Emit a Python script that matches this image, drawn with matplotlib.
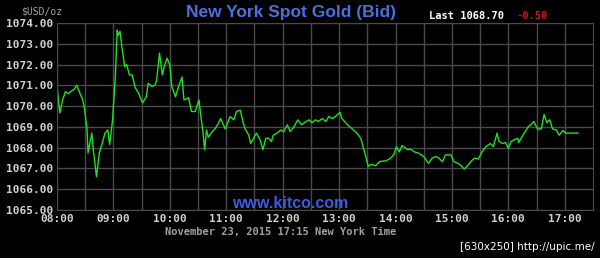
import matplotlib
matplotlib.use('Agg')
import matplotlib.pyplot as plt

# minutes after 08:00 (New York time) and bid price
minutes = [0, 3, 6, 9, 12, 16, 18, 21, 25, 27, 29, 32, 33, 37, 39, 42, 45, 48, 51, 54,
           56, 59, 62, 64, 65, 67, 69, 72, 74, 77, 80, 83, 87, 91, 95, 97, 101, 104, 106, 109,
           112, 114, 117, 120, 122, 126, 129, 133, 135, 140, 143, 147, 151, 153, 155, 157, 159, 161, 165, 168,
           172, 174, 179, 184, 188, 191, 195, 198, 200, 204, 206, 209, 212, 216, 219, 222, 225, 228, 230, 234,
           238, 241, 245, 248, 252, 256, 260, 263, 268, 271, 275, 278, 282, 286, 289, 293, 296, 301, 303, 309,
           314, 319, 323, 326, 328, 331, 334, 339, 343, 350, 355, 358, 361, 364, 367, 373, 376, 380, 385, 390,
           395, 399, 403, 406, 410, 413, 419, 422, 426, 429, 433, 436, 440, 444, 448, 452, 456, 461, 464, 468,
           470, 474, 477, 480, 483, 486, 490, 491, 495, 498, 501, 504, 507, 511, 515, 518, 521, 524, 527, 531,
           534, 538, 541, 554]
prices = [1071.0, 1069.67, 1070.3, 1070.7, 1070.6, 1070.75, 1070.8, 1071.0, 1070.55, 1070.35,
          1069.96, 1068.85, 1067.75, 1068.7, 1067.75, 1066.6, 1067.75, 1068.2, 1068.7, 1068.85,
          1068.15, 1069.3, 1071.4, 1073.66, 1073.4, 1073.6, 1072.86, 1071.9, 1072.0, 1071.5,
          1071.5, 1070.9, 1070.6, 1070.15, 1070.45, 1071.1, 1070.95, 1071.0, 1071.25, 1072.55,
          1071.5, 1071.9, 1072.3, 1072.0, 1070.95, 1070.45, 1070.9, 1071.4, 1070.3, 1070.4,
          1069.74, 1069.74, 1070.3, 1069.5, 1068.85, 1067.9, 1068.85, 1068.5, 1068.77, 1068.9,
          1069.2, 1069.4, 1068.9, 1069.5, 1069.34, 1069.74, 1069.8, 1069.2, 1068.9, 1068.6,
          1068.2, 1068.45, 1068.7, 1068.38, 1067.9, 1068.45, 1068.45, 1068.3, 1068.6, 1068.7,
          1068.85, 1068.77, 1069.1, 1068.77, 1069.0, 1069.34, 1069.1, 1069.2, 1069.34, 1069.2,
          1069.34, 1069.26, 1069.4, 1069.26, 1069.5, 1069.4, 1069.5, 1069.7, 1069.4, 1069.1,
          1068.9, 1068.7, 1068.45, 1067.97, 1067.65, 1067.1, 1067.2, 1067.13, 1067.33, 1067.37,
          1067.5, 1067.65, 1068.05, 1067.8, 1068.1, 1067.9, 1067.93, 1067.8, 1067.73, 1067.57,
          1067.25, 1067.5, 1067.57, 1067.5, 1067.33, 1067.65, 1067.65, 1067.33, 1067.25, 1067.17,
          1066.97, 1067.1, 1067.33, 1067.5, 1067.45, 1067.8, 1068.05, 1068.2, 1068.05, 1068.7,
          1068.3, 1068.2, 1068.25, 1067.97, 1068.3, 1068.38, 1068.45, 1068.25, 1068.57, 1068.77,
          1069.0, 1069.1, 1069.26, 1068.9, 1068.9, 1069.6, 1069.2, 1069.34, 1068.9, 1068.85,
          1068.6, 1068.82, 1068.7, 1068.7]

tick_labels = ['08:00', '09:00', '10:00', '11:00', '12:00', '13:00', '14:00', '15:00', '16:00', '17:00']
y_ticks = [1065, 1066, 1067, 1068, 1069, 1070, 1071, 1072, 1073, 1074]

hours = [8 + m / 60 for m in minutes]

fig = plt.figure(figsize=(6, 2.58), dpi=100, facecolor='black')
ax = fig.add_axes([57 / 600, 1 - 210 / 258, 536 / 600, 187 / 258], facecolor='black')

ax.plot(hours, prices, color='#22e022', linewidth=1.0)

ax.set_xlim(8, 17.5)
ax.set_ylim(1065, 1074)
ax.set_yticks(y_ticks)
ax.set_yticklabels(['%.2f' % v for v in y_ticks])
ax.set_xticks(range(8, 18))
ax.set_xticklabels(tick_labels)
ax.set_xticks([h + 0.5 for h in range(8, 17)], minor=True)
ax.grid(True, which='both', color='#4a4a4a', linewidth=1.0)
ax.tick_params(which='both', length=0, pad=3, colors='#d0d0d0')
for lab in ax.get_xticklabels() + ax.get_yticklabels():
    lab.set_family('DejaVu Sans Mono')
    lab.set_fontweight('bold')
    lab.set_fontsize(8)
for s in ax.spines.values():
    s.set_color('#4a4a4a')

mono = 'DejaVu Sans Mono'
fig.text(291 / 600, 1 - 12 / 258, 'New York Spot Gold (Bid)', color='#4a70dc', fontsize=12.5,
         fontweight='bold', family='Liberation Sans', ha='center', va='center')
fig.text(42 / 600, 1 - 11 / 258, '$USD/oz', color='#a0a0a0', fontsize=7, family=mono,
         ha='center', va='center')
fig.text(429 / 600, 1 - 16 / 258, 'Last 1068.70', color='white', fontsize=7.5, family=mono,
         fontweight='bold', ha='left', va='center')
fig.text(517 / 600, 1 - 16 / 258, '-0.50', color='#e01010', fontsize=7.5, family=mono,
         fontweight='bold', ha='left', va='center')
fig.text(290 / 600, 1 - 203 / 258, 'www.kitco.com', color='#3a5ee0', fontsize=11.5,
         fontweight='bold', family='Liberation Sans', ha='center', va='center')
fig.text(281 / 600, 1 - 232 / 258, 'November 23, 2015 17:15 New York Time', color='#a0a0a0',
         fontsize=7.5, family=mono, fontweight='bold', ha='center', va='center')
fig.text(595 / 600, 1 - 247 / 258, '[630x250] http://upic.me/', color='white', fontsize=7.5,
         family='DejaVu Sans', ha='right', va='center')

fig.savefig('out.png', dpi=100, facecolor='black')
